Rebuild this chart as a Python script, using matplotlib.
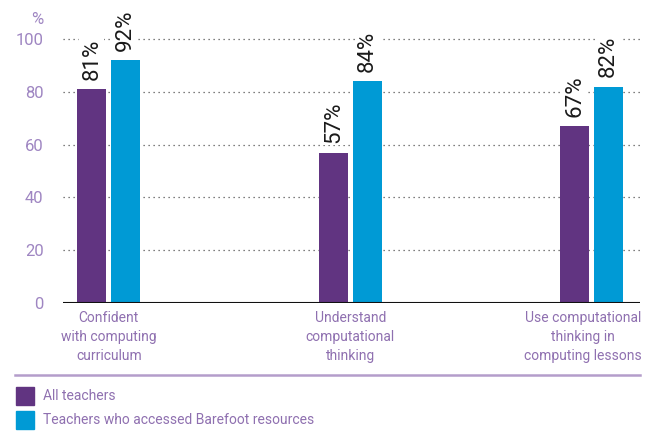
import matplotlib
matplotlib.use("Agg")
import matplotlib.pyplot as plt
from matplotlib.patches import Rectangle
from matplotlib.lines import Line2D
import numpy as np

plt.rcParams['font.family'] = ['Roboto', 'DejaVu Sans']

categories = ["Confident\nwith computing\ncurriculum",
              "Understand\ncomputational\nthinking",
              "Use computational\nthinking in\ncomputing lessons"]
all_teachers = [81, 57, 67]
barefoot = [92, 84, 82]
series_names = ["All teachers", "Teachers who accessed Barefoot resources"]
yticks = [0, 20, 40, 60, 80, 100]

PURPLE = "#613481"
BLUE = "#009ad5"
TICK_COL = "#9f86c2"
LABEL_COL = "#8f70b0"

fig = plt.figure(figsize=(6.51, 4.34), dpi=100)
W, H = 651, 434
ax = fig.add_axes([63 / W, (H - 303) / H, (640 - 63) / W, (303 - 39) / H])

x = np.arange(len(categories))
bw = 0.12
off = 0.07
b1 = ax.bar(x - off, all_teachers, bw, color=PURPLE, zorder=3)
b2 = ax.bar(x + off, barefoot, bw, color=BLUE, zorder=3)

for bars, vals in ((b1, all_teachers), (b2, barefoot)):
    for rect, v in zip(bars, vals):
        ax.annotate(f"{v}%", (rect.get_x() + rect.get_width() / 2, v),
                    xytext=(0, 6.5), textcoords="offset points",
                    rotation=90, ha="center", va="bottom", fontsize=16,
                    color="#1a1a1a", zorder=5, annotation_clip=False,
                    bbox=dict(facecolor="white", edgecolor="none", pad=1.5))

ax.set_xlim(-0.19, 2.2)
ax.set_ylim(0, 100)
ax.set_yticks(yticks)
ax.set_yticklabels([str(t) for t in yticks], color=TICK_COL, fontsize=12)
ax.tick_params(axis="y", length=0, pad=14)
ax.set_xticks([])
for s in ax.spines.values():
    s.set_visible(False)
for t in yticks[1:]:
    ax.axhline(t, color="#555555", linestyle=(0, (1, 3)), linewidth=0.9,
               zorder=1, clip_on=False)
ax.axhline(0, color="#111111", linewidth=1.5, zorder=4)

fig.text(43 / W, (H - 19) / H, "%", color=TICK_COL, fontsize=12,
         ha="right", va="center")

label_shift = [0, 0, -9]
for xi, lab, sh in zip(x, categories, label_shift):
    ax.annotate(lab, (xi, 0), xytext=(sh * 0.72, -6), textcoords="offset points",
                ha="center", va="top", fontsize=10, color=LABEL_COL,
                linespacing=1.45, annotation_clip=False)

fig.add_artist(Line2D([15 / W, 640 / W], [(H - 375) / H] * 2,
                      color="#b49dcb", linewidth=1.8))
cols = [PURPLE, BLUE]
for i, (name, c) in enumerate(zip(series_names, cols)):
    top = 387 + i * 24
    fig.add_artist(Rectangle((16 / W, (H - top - 18) / H), 18 / W, 18 / H,
                             color=c, transform=fig.transFigure))
    fig.text(43 / W, (H - top - 9) / H, name, color=LABEL_COL, fontsize=10,
             va="center", ha="left")

fig.savefig("out.png", dpi=100)
